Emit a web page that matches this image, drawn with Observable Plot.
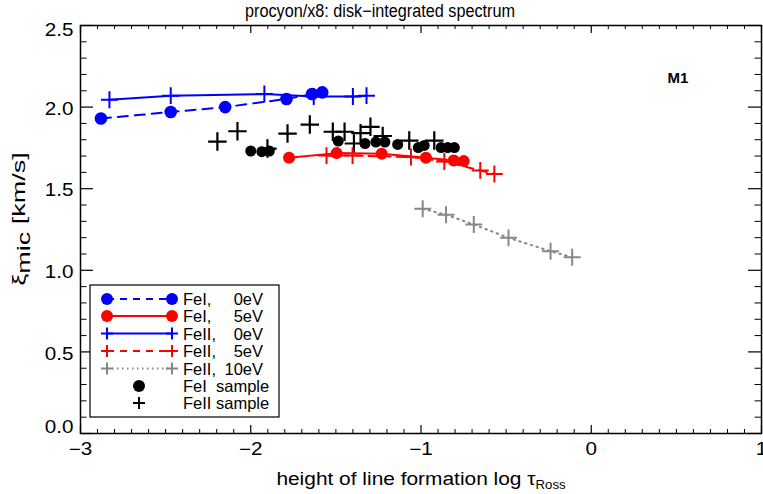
<!DOCTYPE html>
<html><head><meta charset="utf-8">
<script src="https://cdn.jsdelivr.net/npm/d3@7"></script>
<script src="https://cdn.jsdelivr.net/npm/@observablehq/plot@0.6"></script>
<style>
body{margin:0;background:#fff;font-family:"Liberation Sans",Arial,sans-serif}
#wrap{position:relative;width:763px;height:494px}
</style>
</head><body><div id="wrap"></div>
<script>
// ---- data ----
const feI0eV_x  = [-2.88, -2.47, -2.15, -1.79, -1.64, -1.58];
const feI0eV_y  = [1.93, 1.97, 2.00, 2.05, 2.08, 2.09];
const feI5eV_x  = [-1.775, -1.496, -1.231, -0.971, -0.808, -0.749];
const feI5eV_y  = [1.689, 1.718, 1.714, 1.689, 1.673, 1.669];
const feII0eV_x = [-2.83, -2.47, -1.92, -1.63, -1.40, -1.32];
const feII0eV_y = [2.045, 2.07, 2.08, 2.065, 2.065, 2.07];
const feII5eV_x = [-1.555, -1.402, -1.059, -0.863, -0.652, -0.569];
const feII5eV_y = [1.703, 1.703, 1.694, 1.667, 1.612, 1.590];
const feII10eV_x = [-0.990, -0.853, -0.690, -0.486, -0.239, -0.112];
const feII10eV_y = [1.377, 1.340, 1.281, 1.199, 1.117, 1.080];
const feIsample_x = [-2.00, -1.935, -1.891, -1.486, -1.329, -1.265, -1.212, -1.137, -1.016, -0.981, -0.882, -0.843, -0.804];
const feIsample_y = [1.731, 1.727, 1.731, 1.792, 1.777, 1.786, 1.786, 1.771, 1.752, 1.765, 1.752, 1.752, 1.752];
const feIIsample_x = [-2.196, -2.078, -1.902, -1.784, -1.653, -1.518, -1.449, -1.394, -1.355, -1.297, -1.225, -1.069, -0.922];
const feIIsample_y = [1.789, 1.852, 1.746, 1.838, 1.893, 1.849, 1.849, 1.777, 1.840, 1.879, 1.823, 1.795, 1.795];

const xMajor = [-3, -2, -1, 0, 1];
const yMajor = [0, 0.5, 1, 1.5, 2, 2.5];
const titleText = "procyon/x8: disk\u2212integrated spectrum";
const modelLabel = "M1";
const legendNames = ["FeI,", "FeI,", "FeII,", "FeII,", "FeII,", "FeI  sample", "FeII sample"];
const legendEnergies = ["0eV", "5eV", "0eV", "5eV", "10eV", "", ""];

// ---- layout ----
const W = 763, H = 494, ML = 80, MR = 2, MT = 25, MB = 61;
const PW = W - ML - MR, PH = H - MT - MB;
const BLUE = "#0000ff", RED = "#ff0000", GRAY = "#888888", FONT = "'Liberation Sans', Arial, sans-serif";

const rows = (xs, ys) => xs.map((x, i) => ({x, y: ys[i]}));
const xMinor = d3.range(-30, 11).map(i => i / 10).filter(v => !xMajor.includes(v));
const yMinor = d3.range(0, 26).map(i => i / 10).filter(v => !yMajor.includes(v));
const fmtX = d => d < 0 ? "\u2212" + (-d) : String(d);
const fmtY = d3.format(".1f");

const chart = Plot.plot({
  width: W, height: H, marginLeft: ML, marginRight: MR, marginTop: MT, marginBottom: MB,
  x: {domain: [-3, 1]}, y: {domain: [0, 2.5]},
  style: {fontFamily: FONT, background: "white", color: "black"},
  marks: [
    // inward ticks on all four sides
    Plot.tickX(xMinor, {x: d => d, insetTop: PH - 4, strokeWidth: 1}),
    Plot.tickX(xMinor, {x: d => d, insetBottom: PH - 4, strokeWidth: 1}),
    Plot.tickX(xMajor, {x: d => d, insetTop: PH - 8, strokeWidth: 1.2}),
    Plot.tickX(xMajor, {x: d => d, insetBottom: PH - 8, strokeWidth: 1.2}),
    Plot.tickY(yMinor, {y: d => d, insetRight: PW - 6.5, strokeWidth: 1}),
    Plot.tickY(yMinor, {y: d => d, insetLeft: PW - 6.5, strokeWidth: 1}),
    Plot.tickY(yMajor, {y: d => d, insetRight: PW - 13, strokeWidth: 1.2}),
    Plot.tickY(yMajor, {y: d => d, insetLeft: PW - 13, strokeWidth: 1.2}),
    Plot.axisX({ticks: xMajor, tickSize: 0, tickPadding: 9, tickFormat: fmtX, fontSize: 17.5, label: null}),
    Plot.axisY({ticks: [0.5, 1, 1.5, 2], tickSize: 0, tickPadding: 7, tickFormat: fmtY, fontSize: 17.5, dy: 2, label: null}),
    Plot.axisY({ticks: [2.5], tickSize: 0, tickPadding: 7, tickFormat: fmtY, fontSize: 17.5, dy: 5, label: null}),
    Plot.axisY({ticks: [0], tickSize: 0, tickPadding: 7, tickFormat: fmtY, fontSize: 17.5, dy: -6, label: null}),
    // sample points
    Plot.dot(rows(feIsample_x, feIsample_y), {x: "x", y: "y", symbol: "circle", r: 5.5, fill: "black"}),
    Plot.dot(rows(feIIsample_x, feIIsample_y), {x: "x", y: "y", symbol: "plus", r: 6, stroke: "black", strokeWidth: 2.2}),
    // model series
    Plot.line(rows(feII10eV_x, feII10eV_y), {x: "x", y: "y", stroke: GRAY, strokeWidth: 2, strokeDasharray: "1.5,4.5"}),
    Plot.dot(rows(feII10eV_x, feII10eV_y), {x: "x", y: "y", symbol: "plus", r: 5.5, stroke: GRAY, strokeWidth: 2}),
    Plot.line(rows(feII5eV_x, feII5eV_y), {x: "x", y: "y", stroke: RED, strokeWidth: 2, strokeDasharray: "8,6"}),
    Plot.dot(rows(feII5eV_x, feII5eV_y), {x: "x", y: "y", symbol: "plus", r: 5.5, stroke: RED, strokeWidth: 2}),
    Plot.line(rows(feI5eV_x, feI5eV_y), {x: "x", y: "y", stroke: RED, strokeWidth: 2}),
    Plot.dot(rows(feI5eV_x, feI5eV_y), {x: "x", y: "y", symbol: "circle", r: 6, fill: RED}),
    Plot.line(rows(feII0eV_x, feII0eV_y), {x: "x", y: "y", stroke: BLUE, strokeWidth: 2}),
    Plot.dot(rows(feII0eV_x, feII0eV_y), {x: "x", y: "y", symbol: "plus", r: 5.5, stroke: BLUE, strokeWidth: 2}),
    Plot.line(rows(feI0eV_x, feI0eV_y), {x: "x", y: "y", stroke: BLUE, strokeWidth: 2, strokeDasharray: "10,7"}),
    Plot.dot(rows(feI0eV_x, feI0eV_y), {x: "x", y: "y", symbol: "circle", r: 6.3, fill: BLUE}),
    Plot.text([modelLabel], {text: d => d, frameAnchor: "top-right", dx: -83.5, dy: 47, textAnchor: "middle", fontWeight: "bold", fontSize: 15}),
    Plot.frame({stroke: "black", strokeWidth: 1.5})
  ]
});
document.getElementById("wrap").appendChild(chart);

const svg = d3.select(chart);
// slightly wide tick-label glyphs as in the reference
svg.selectAll('g[aria-label="x-axis tick label"] text, g[aria-label="y-axis tick label"] text').each(function () {
  const t = this.getAttribute("transform") || "";
  this.setAttribute("transform", t + " scale(1.18,1)");
});

// title
svg.append("text").attr("x", 380).attr("y", 17).attr("text-anchor", "middle")
  .attr("font-family", FONT).attr("font-size", 18)
  .attr("textLength", 270).attr("lengthAdjust", "spacingAndGlyphs").text(titleText);

// x-axis label
const xl = svg.append("text").attr("transform", "translate(421,485) scale(1.1,1)").attr("text-anchor", "middle")
  .attr("font-family", FONT).attr("font-size", 19);
xl.append("tspan").text("height of line formation log \u03c4");
xl.append("tspan").attr("font-size", 12).attr("dy", 4).text("Ross");

// y-axis label
const yl = svg.append("text").attr("transform", "translate(25,219) rotate(-90) scale(1.5,1)").attr("text-anchor", "middle")
  .attr("font-family", FONT).attr("font-size", 18);
yl.append("tspan").text("\u03be");
yl.append("tspan").attr("dy", 5).text("mic");
yl.append("tspan").attr("dy", -5).text(" [km/s]");

// legend
const lg = svg.append("g").attr("font-family", FONT).attr("font-size", 16.5).attr("text-anchor", "start");
lg.append("rect").attr("x", 90).attr("y", 285).attr("width", 189).attr("height", 132)
  .attr("fill", "white").attr("stroke", "black").attr("stroke-width", 1.2);
const legendStyle = [
  {color: BLUE, dash: "7,6", sym: "circle", width: 2},
  {color: RED, dash: null, sym: "circle", width: 2},
  {color: BLUE, dash: null, sym: "plus", width: 2},
  {color: RED, dash: "7,6", sym: "plus", width: 2},
  {color: GRAY, dash: "1.5,3.5", sym: "plus", width: 2},
  {color: "black", dash: null, sym: "circle", width: 0, single: true},
  {color: "black", dash: null, sym: "plus", width: 0, single: true}
];
const rowY = [299, 316, 333.5, 351, 368.5, 386, 403];
const drawSym = (g, sym, cx, cy, color) => {
  if (sym === "circle") g.append("circle").attr("cx", cx).attr("cy", cy).attr("r", 6).attr("fill", color);
  else g.append("path").attr("d", `M${cx - 6},${cy}H${cx + 6}M${cx},${cy - 6}V${cy + 6}`)
    .attr("stroke", color).attr("stroke-width", 2).attr("fill", "none");
};
legendStyle.forEach((s, i) => {
  const y = rowY[i];
  if (!s.single) {
    lg.append("line").attr("x1", 107).attr("x2", 172).attr("y1", y).attr("y2", y)
      .attr("stroke", s.color).attr("stroke-width", s.width).attr("stroke-dasharray", s.dash);
    drawSym(lg, s.sym, 107, y, s.color);
    drawSym(lg, s.sym, 172, y, s.color);
  } else {
    drawSym(lg, s.sym, 139, y, s.color);
  }
  lg.append("text").attr("x", 183).attr("y", y + 6).attr("text-anchor", "start").style("white-space", "pre").text(legendNames[i]);
  if (legendEnergies[i]) lg.append("text").attr("x", 263).attr("y", y + 6).attr("text-anchor", "end").text(legendEnergies[i]);
});
</script></body></html>
